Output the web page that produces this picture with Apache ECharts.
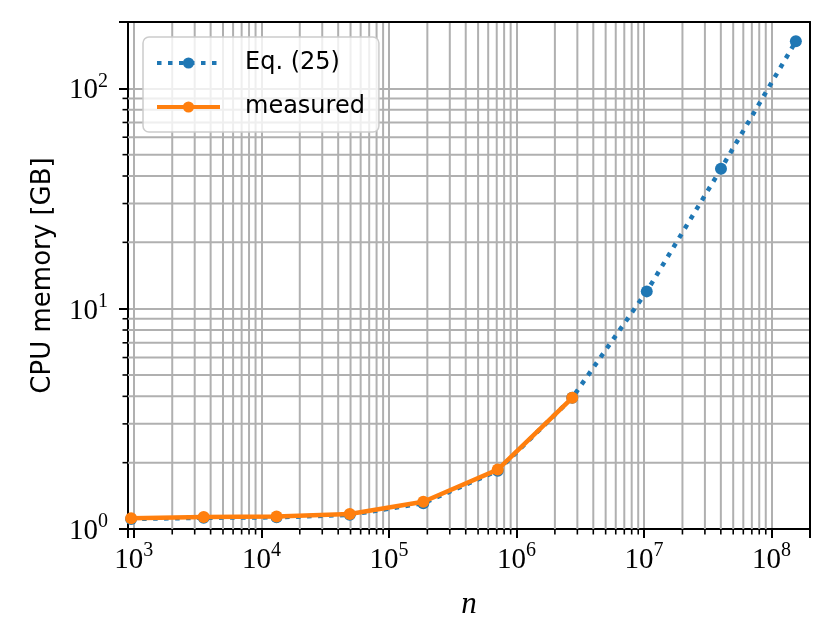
<!DOCTYPE html>
<html lang="en">
<head>
    <meta charset="UTF-8">
    <script src="https://cdn.jsdelivr.net/npm/echarts@6/dist/echarts.min.js"></script>
    <style>
        html, body { margin: 0; padding: 0; background: #fff; }
        #chart { width: 832px; height: 639px; }
    </style>
</head>
<body>
<div id="chart"></div>
<script type="text/javascript">
    // problem size n (x) and CPU memory in GB (y)
    const nValues = [952, 3530, 13150, 49300, 186000, 713000, 2735000, 10500000, 40100000, 154900000];
    const eqMemory = [1.11, 1.125, 1.13, 1.16, 1.31, 1.84, 3.94, 11.98, 43.1, 163.5];
    const measuredN = [952, 3530, 13150, 49300, 186000, 713000, 2735000];
    const measuredMemory = [1.12, 1.135, 1.14, 1.17, 1.33, 1.86, 3.94];
    const seriesNames = ['Eq. (25)', 'measured'];

    const xMin = 900, xMax = 2e8;
    const yMin = 1, yMax = 200;

    // minor tick positions 2..9 x 10^k inside the axis ranges
    function minorValues(lo, hi) {
        let out = [];
        for (let e = Math.floor(Math.log10(lo)); e <= Math.ceil(Math.log10(hi)); e++) {
            for (let m = 2; m <= 9; m++) {
                let v = m * Math.pow(10, e);
                if (v >= lo * 0.9999 && v <= hi * 1.0001) out.push(v);
            }
        }
        return out;
    }
    const xMinor = minorValues(xMin, xMax);
    const yMinor = minorValues(yMin, yMax);

    const gridColor = '#b0b0b0';
    const serif = 'Liberation Serif';
    const sans = 'DejaVu Sans';

    function powLabel(v) {
        let l = Math.log10(v);
        let e = Math.round(l);
        if (Math.abs(l - e) > 1e-6) return '';
        return '{b|10}{s|' + e + '}';
    }
    const labelRich = {
        b: { fontFamily: serif, fontSize: 29, lineHeight: 34, verticalAlign: 'bottom', color: '#000' },
        s: { fontFamily: serif, fontSize: 20, lineHeight: 20, verticalAlign: 'top', color: '#000' }
    };

    // frame-only axes for the top and right border
    function frameAxis(type, pos, lo, hi) {
        return {
            type: type, position: pos, min: lo, max: hi, logBase: 10,
            axisLine: { show: true, lineStyle: { color: '#000', width: 2 } },
            axisTick: { show: false }, axisLabel: { show: false }, splitLine: { show: false }, z: 5
        };
    }

    let chart = echarts.init(document.getElementById('chart'));

    let option = {
        animation: false,
        grid: { left: 128, right: 22, top: 22, bottom: 110 },
        legend: {
            data: seriesNames,
            orient: 'vertical',
            left: 143, top: 37,
            padding: [13, 14, 12, 12],
            itemWidth: 63, itemHeight: 14, itemGap: 18,
            lineStyle: { width: 4 },
            backgroundColor: 'rgba(255,255,255,0.8)',
            borderColor: '#cccccc', borderWidth: 1.5, borderRadius: 6,
            textStyle: { fontFamily: sans, fontSize: 24, lineHeight: 26, color: '#000', padding: [0, 0, 0, 20] }
        },
        xAxis: [{
            type: 'log', logBase: 10, min: xMin, max: xMax, splitNumber: 5,
            name: 'n', nameLocation: 'middle', nameGap: 60,
            nameTextStyle: { fontFamily: serif, fontStyle: 'italic', fontSize: 31, color: '#000' },
            axisLine: { show: true, lineStyle: { color: '#000', width: 2 } },
            axisTick: { show: true, inside: false, length: 9, lineStyle: { color: '#000', width: 2 } },
            splitLine: { show: true, lineStyle: { color: gridColor, width: 2 } },
            axisLabel: { formatter: powLabel, margin: 12, rich: labelRich }
        }, frameAxis('log', 'top', xMin, xMax)],
        yAxis: [{
            type: 'log', logBase: 10, min: yMin, max: yMax, splitNumber: 3,
            name: 'CPU memory [GB]', nameLocation: 'middle', nameGap: 72,
            nameTextStyle: { fontFamily: sans, fontSize: 26, color: '#000' },
            axisLine: { show: true, lineStyle: { color: '#000', width: 2 } },
            axisTick: { show: true, inside: false, length: 9, lineStyle: { color: '#000', width: 2 } },
            splitLine: { show: true, lineStyle: { color: gridColor, width: 2 } },
            axisLabel: { formatter: powLabel, margin: 20, rich: labelRich }
        }, frameAxis('log', 'right', yMin, yMax)],
        series: [
            {
                // minor grid lines and ticks on x
                type: 'custom', silent: true, z: 1, clip: false,
                data: xMinor.map(function (v) { return [v, yMin]; }),
                encode: { x: 0, y: 1 },
                renderItem: function (params, api) {
                    let v = api.value(0);
                    let bottom = api.coord([v, yMin]);
                    let top = api.coord([v, yMax]);
                    let kids = [{
                        type: 'line',
                        shape: { x1: bottom[0], y1: bottom[1] + 1, x2: bottom[0], y2: bottom[1] + 5.5 },
                        style: { stroke: '#000', lineWidth: 1.6 }
                    }];
                    if (v > xMin * 1.001 && v < xMax * 0.999) {
                        kids.unshift({
                            type: 'line',
                            shape: { x1: bottom[0], y1: top[1], x2: bottom[0], y2: bottom[1] },
                            style: { stroke: gridColor, lineWidth: 2 }
                        });
                    }
                    return { type: 'group', children: kids };
                }
            },
            {
                // minor grid lines and ticks on y
                type: 'custom', silent: true, z: 1, clip: false,
                data: yMinor.map(function (v) { return [xMin, v]; }),
                encode: { x: 0, y: 1 },
                renderItem: function (params, api) {
                    let v = api.value(1);
                    let left = api.coord([xMin, v]);
                    let right = api.coord([xMax, v]);
                    let kids = [{
                        type: 'line',
                        shape: { x1: left[0] - 1, y1: left[1], x2: left[0] - 5.5, y2: left[1] },
                        style: { stroke: '#000', lineWidth: 1.6 }
                    }];
                    if (v > yMin * 1.001 && v < yMax * 0.999) {
                        kids.unshift({
                            type: 'line',
                            shape: { x1: left[0], y1: left[1], x2: right[0], y2: left[1] },
                            style: { stroke: gridColor, lineWidth: 2 }
                        });
                    }
                    return { type: 'group', children: kids };
                }
            },
            {
                name: seriesNames[0],
                type: 'line', z: 3,
                data: nValues.map(function (n, i) { return [n, eqMemory[i]]; }),
                symbol: 'circle', symbolSize: 12,
                itemStyle: { color: '#1f77b4' },
                lineStyle: { color: '#1f77b4', width: 4.5, type: [4.5, 6.5], cap: 'butt' }
            },
            {
                name: seriesNames[1],
                type: 'line', z: 4,
                data: measuredN.map(function (n, i) { return [n, measuredMemory[i]]; }),
                symbol: 'circle', symbolSize: 12,
                itemStyle: { color: '#ff7f0e' },
                lineStyle: { color: '#ff7f0e', width: 4.5 }
            }
        ]
    };

    chart.setOption(option);
</script>
</body>
</html>
